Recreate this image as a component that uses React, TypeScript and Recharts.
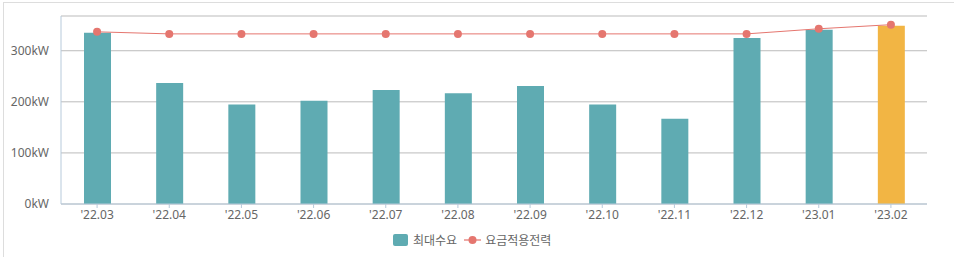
import React from 'react'
import { Bar, Cell, ComposedChart, CartesianGrid, Line, XAxis, YAxis } from 'recharts'

const months = ["'22.03", "'22.04", "'22.05", "'22.06", "'22.07", "'22.08", "'22.09", "'22.10", "'22.11", "'22.12", "'23.01", "'23.02"]
const peakDemand = [335, 237, 195, 202, 223, 217, 231, 195, 167, 325, 341, 349]
const billingPower = [337, 333, 333, 333, 333, 333, 333, 333, 333, 333, 343, 351]
const yTicks = [0, 100, 200, 300]

const chartData = months.map((m, i) => ({ name: m, peak: peakDemand[i], billing: billingPower[i] }))

const FONT = "'Noto Sans', 'Noto Sans CJK KR', sans-serif"
const TEAL = '#5fabb2'
const ORANGE = '#f2b544'
const RED = '#e5766f'
const TEXT = '#666666'

const App = () => {
    return (
        <div style={{ position: 'relative', width: 954, height: 257, overflow: 'hidden', fontFamily: FONT }}>
            <style>{'body{margin:0}'}</style>
            <div style={{ position: 'absolute', left: 3, top: 2, width: 980, height: 300, border: '1px solid #dddddd', boxSizing: 'border-box' }} />
            <ComposedChart
                width={954}
                height={257}
                data={chartData}
                margin={{ top: 16, right: 27, left: 0, bottom: 23 }}
                style={{ position: 'absolute', left: 0, top: 0 }}
            >
                <CartesianGrid vertical={false} stroke="#bbbbbb" />
                <XAxis
                    dataKey="name"
                    height={30}
                    stroke="#b7cadb"
                    tickSize={4}
                    tick={{ fill: TEXT, fontSize: 12, fontFamily: FONT }}
                />
                <YAxis
                    width={61}
                    domain={[0, 368]}
                    ticks={yTicks}
                    stroke="#b7cadb"
                    tickLine={false}
                    tickMargin={6}
                    tickFormatter={(v) => `${v}kW`}
                    tick={{ fill: TEXT, fontSize: 12, fontFamily: FONT }}
                />
                <Bar dataKey="peak" barSize={27} isAnimationActive={false}>
                    {chartData.map((_, i) => (
                        <Cell key={i} fill={i === chartData.length - 1 ? ORANGE : TEAL} />
                    ))}
                </Bar>
                <Line
                    dataKey="billing"
                    type="linear"
                    stroke={RED}
                    strokeWidth={1}
                    dot={{ r: 4, fill: RED, stroke: RED, strokeWidth: 0 }}
                    isAnimationActive={false}
                />
            </ComposedChart>
            <div style={{ position: 'absolute', left: 393, top: 231, height: 18, display: 'flex', alignItems: 'center', fontSize: 12, color: TEXT }}>
                <span style={{ width: 15, height: 12, background: TEAL, borderRadius: 2, marginRight: 5 }} />
                <span style={{ marginRight: 7 }}>최대수요</span>
                <svg width={17} height={10} style={{ marginRight: 4 }}>
                    <line x1={0} y1={5} x2={17} y2={5} stroke="#eeaaa6" strokeWidth={2} />
                    <circle cx={8.5} cy={5} r={4} fill={RED} />
                </svg>
                <span>요금적용전력</span>
            </div>
        </div>
    )
}

export default App
